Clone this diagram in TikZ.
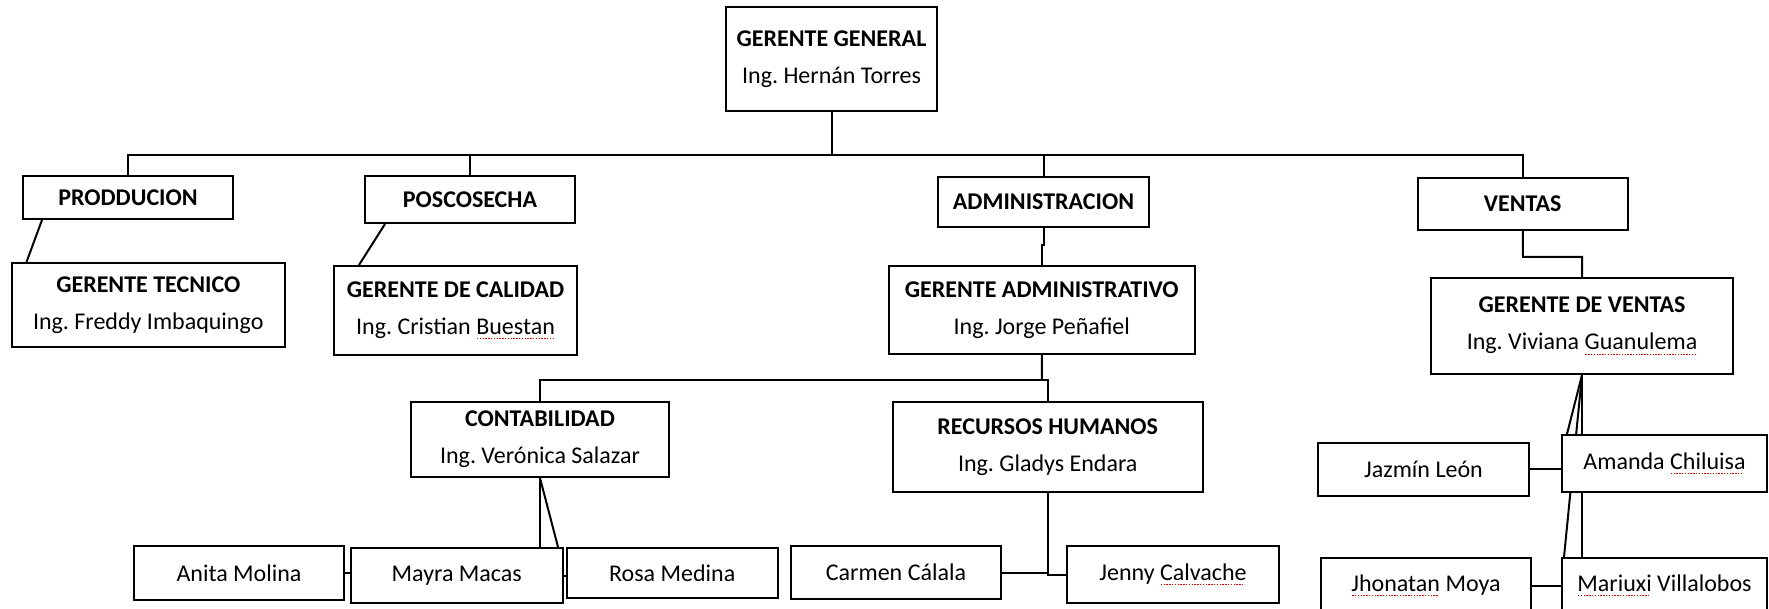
\documentclass[tikz,border=0pt]{standalone}
\usepackage{fontspec}
\setmainfont{Carlito}
\usetikzlibrary{backgrounds}
\frenchspacing
\newsavebox\splbox
\newcommand\splerr[1]{\sbox\splbox{#1}\rlap{\color{red!85!black}\raisebox{-2.6pt}{\hbox to \wd\splbox{\leaders\hbox to 1.4pt{\hss\rule{0.7pt}{0.5pt}\hss}\hfill}}}\usebox\splbox}
\begin{document}
\begin{tikzpicture}[x=0.5pt,y=-0.5pt,
  box/.style={draw, line width=1pt, fill=white, inner sep=0pt, align=center,
    font=\frenchspacing\fontsize{12}{18.5}\selectfont},
  conn/.style={draw, line width=1pt}]
\clip (0,0) rectangle (1769,609);
% top level
\node[box, minimum width=105.5pt, minimum height=52pt] (gg) at (831.5,59) {\textbf{GERENTE GENERAL}\\Ing. Hernán Torres};
\node[box, minimum width=105pt, minimum height=21.5pt] (prod) at (128,197.5) {\textbf{PRODDUCION}};
\node[box, minimum width=105pt, minimum height=23.5pt] (posc) at (470,199.5) {\textbf{POSCOSECHA}};
\node[box, minimum width=105.5pt, minimum height=25pt] (admin) at (1043.5,202) {\textbf{ADMINISTRACION}};
\node[box, minimum width=105.25pt, minimum height=26pt] (ventas) at (1522.75,204) {\textbf{VENTAS}};
% managers
\node[box, minimum width=136.75pt, minimum height=42pt] (gt) at (148.25,305) {\textbf{GERENTE TECNICO}\\Ing. Freddy Imbaquingo};
\node[box, minimum width=121.5pt, minimum height=44.5pt] (gc) at (455.5,310.5) {\textbf{GERENTE DE CALIDAD}\\Ing. Cristian \splerr{Buestan}};
\node[box, minimum width=153.25pt, minimum height=44pt] (ga) at (1041.75,310) {\textbf{GERENTE ADMINISTRATIVO}\\Ing. Jorge Peñafiel};
\node[box, minimum width=151pt, minimum height=48pt] (gv) at (1582,326) {\textbf{GERENTE DE VENTAS}\\Ing. Viviana \splerr{Guanulema}};
% admin departments
\node[box, minimum width=129pt, minimum height=37.5pt] (cont) at (540,439.5) {\textbf{CONTABILIDAD}\\Ing. Verónica Salazar};
\node[box, minimum width=155.25pt, minimum height=45pt] (rh) at (1047.75,447) {\textbf{RECURSOS HUMANOS}\\Ing. Gladys Endara};
% staff
\node[box, minimum width=105pt, minimum height=27pt] (anita) at (239,573) {Anita Molina};
\node[box, minimum width=105.75pt, minimum height=27.5pt] (mayra) at (456.75,575.5) {Mayra Macas};
\node[box, minimum width=105.75pt, minimum height=25pt] (rosa) at (672.25,573) {Rosa Medina};
\node[box, minimum width=105pt, minimum height=26.5pt] (carmen) at (896,572.5) {Carmen Cálala};
\node[box, minimum width=106pt, minimum height=28.5pt] (jenny) at (1173,574.5) {Jenny \splerr{Calvache}};
\node[box, minimum width=105.5pt, minimum height=26.5pt] (jazmin) at (1423.5,469.5) {Jazmín León};
\node[box, minimum width=102.5pt, minimum height=28.5pt] (amanda) at (1664.5,463.5) {Amanda \splerr{Chiluisa}};
\node[box, minimum width=105pt, minimum height=27.5pt] (jhonatan) at (1426,585.5) {\splerr{Jhonatan} Moya};
\node[box, minimum width=102.5pt, minimum height=27.5pt] (mariuxi) at (1664.5,585.5) {\splerr{Mariuxi} Villalobos};
% connectors
\coordinate (bus) at (831.5,155);
\coordinate (adminjog) at (1043.5,245);
\coordinate (ventasjog) at (1523,257);
\coordinate (gabus) at (1042,380);
\begin{scope}[on background layer]
\path[conn] (gg.south) -- (bus);
\path[conn] (prod.north) -- (prod.north |- bus) -- (ventas.north |- bus) -- (ventas.north);
\path[conn] (posc.north) -- (posc.north |- bus);
\path[conn] (admin.north) -- (admin.north |- bus);
\path[conn] ([xshift=10pt]prod.south west) -- ([xshift=8pt]gt.north west);
\path[conn] ([xshift=10.5pt]posc.south west) -- ([xshift=13pt]gc.north west);
\path[conn] (admin.south) -- (adminjog) -- (ga.north |- adminjog) -- (ga.north);
\path[conn] (ventas.south) -- (ventasjog) -- (gv.north |- ventasjog) -- (gv.north);
\path[conn] (ga.south) -- (gabus);
\path[conn] (cont.north) -- (cont.north |- gabus) -- (rh.north |- gabus) -- (rh.north);
\path[conn] (cont.south) -- (cont.south |- mayra.north);
\path[conn] (cont.south) -- ([xshift=-2.75pt]mayra.north east);
\path[conn] (anita.east) -- (anita.east -| mayra.west);
\path[conn] (mayra.east) -- (mayra.east -| rosa.west);
\coordinate (rhj) at (rh.south |- carmen.east);
\path[conn] (rh.south) -- (rhj);
\path[conn] (carmen.east) -- (rhj);
\path[conn] (rhj) |- (jenny.west);
\path[conn] (gv.south) -- ([xshift=3pt]amanda.north west);
\path[conn] (gv.south) -- ([xshift=1.5pt]mariuxi.north west);
\path[conn] (gv.south) -- (gv.south |- mariuxi.north);
\path[conn] (jazmin.east) -- (jazmin.east -| amanda.west);
\path[conn] (jhonatan.east) -- (jhonatan.east -| mariuxi.west);
\end{scope}
\end{tikzpicture}
\end{document}
